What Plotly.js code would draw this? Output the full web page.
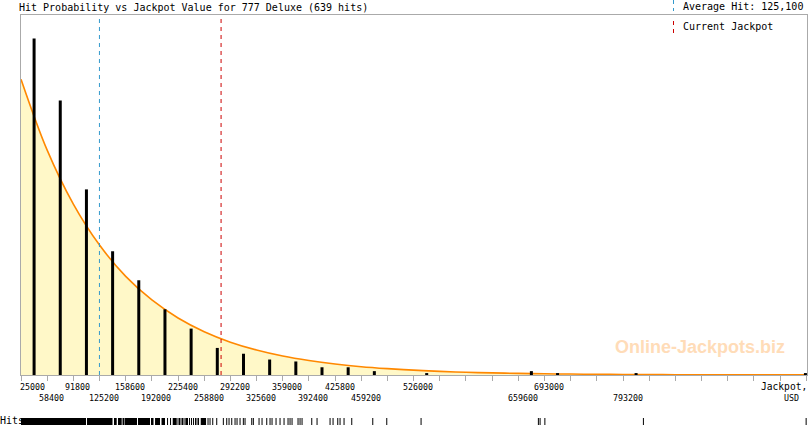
<!DOCTYPE html>
<html>
<head>
<meta charset="utf-8">
<script src="https://cdn.plot.ly/plotly-3.0.1.min.js"></script>
<style>
  body { margin: 0; background: #fff; }
  #chart { width: 810px; height: 425px; }
</style>
</head>
<body>
<div id="chart"></div>
<script>
// histogram of hits, one bar per 33,400 USD bin (bin centre, number of hits)
const binCenters = [41700, 75100, 108500, 141900, 175300, 208700, 242100, 275500,
  308900, 342300, 375700, 409100, 442500, 475900, 542700, 676300, 709700, 809900, 1026000];
const binHits = [174, 142, 96, 64, 49, 34, 24, 14, 11, 8, 7, 4, 4, 2, 1, 2, 1, 1, 1];

// fitted probability curve, read at the bin edges (in hits)
const curveAt = [25000, 58400, 91800, 125200, 158600, 192000, 225400, 258800, 292200,
  325600, 359000, 392400, 425800, 459200, 492600, 526000, 559400, 592800, 626200,
  659600, 693000, 726400, 759800, 793200, 826600, 860000, 893400, 926800, 960200,
  993600, 1027000];
const curveHits = [153, 116.3, 88.4, 67.2, 51.0, 38.8, 29.5, 22.4, 17.0, 12.9, 9.8,
  7.5, 5.7, 4.3, 3.3, 2.5, 1.9, 1.4, 1.1, 0.83, 0.63, 0.48, 0.37, 0.28, 0.21, 0.16,
  0.12, 0.09, 0.07, 0.05, 0.04];

// x axis labels (only bins that have hits get one)
const labelValues = [25000, 58400, 91800, 125200, 158600, 192000, 225400, 258800,
  292200, 325600, 359000, 392400, 425800, 459200, 526000, 659600, 693000, 793200];

const avgHit = 125100;
const currentJackpot = 280300;
const gameName = '777 Deluxe';

// rug of single hits: solid stretches [from, to] and lone ticks
const rugRuns = [[25000, 107960], [109240, 141780], [143700, 147140], [148800, 153520],
  [154550, 157100], [157740, 173050], [174330, 189650], [190920, 194110],
  [196040, 202410], [204320, 208790], [211350, 212630], [215180, 216460],
  [218620, 223730], [234700, 238140], [254350, 261120]];
const rugTicks = [225380, 227290, 229210, 231120, 233040, 240060, 242610, 245160,
  247710, 249630, 251540, 263670, 266220, 269670, 274770, 283200, 287530, 290470,
  293920, 298130, 300680, 304510, 308720, 310890, 319440, 321480, 328760, 332590,
  338590, 342800, 345350, 350460, 355560, 360670, 365770, 368320, 370880, 378530,
  381090, 383640, 396020, 402780, 419380, 423210, 429200, 432140, 437240, 447070,
  473870, 491740, 535520, 685230, 687400, 693500, 819240, 1026900];

// window pixels -> paper coords (plot area is x 21..807, y 15..425)
const W = 810, H = 425, L = 21, R = 3, T = 15;
const px = X => (X - L) / (W - L - R);
const py = Y => (H - Y) / (H - T);
const usdPerPx = 1276.3;
const yTop = 186.2;

const mono = 'DejaVu Sans Mono, monospace';
const totalHits = binHits.reduce((a, b) => a + b, 0);

const rugBase = [], rugLen = [];
rugRuns.forEach(r => { rugBase.push(r[0]); rugLen.push(r[1] - r[0]); });
rugTicks.forEach(v => { rugBase.push(v - usdPerPx / 2); rugLen.push(usdPerPx); });

const traces = [
  {
    type: 'scatter', mode: 'lines',
    x: curveAt, y: curveHits,
    line: {color: '#ff8800', width: 1.6, shape: 'spline'},
    fill: 'tozeroy', fillcolor: '#fff8c8',
    hoverinfo: 'skip'
  },
  // bars sit on an overlaid axis so they are drawn over the filled curve
  {
    type: 'bar', xaxis: 'x', yaxis: 'y3',
    x: binCenters, y: binHits,
    width: 3 * usdPerPx,
    marker: {color: '#000', line: {width: 0}}
  },
  {
    type: 'bar', orientation: 'h',
    xaxis: 'x', yaxis: 'y2',
    y: rugBase.map(() => 0), x: rugLen, base: rugBase,
    width: 1,
    marker: {color: '#000', line: {width: 0}}
  }
];

const annotations = labelValues.map((v, i) => ({
  xref: 'x', x: v, yref: 'paper', y: py(i % 2 ? 398.3 : 386.7),
  xanchor: i === 0 ? 'left' : 'center', xshift: i === 0 ? -3 : 4.5,
  yanchor: 'middle', showarrow: false,
  text: String(v), font: {family: mono, size: 8.3, color: '#000'}
}));

annotations.push(
  {xref: 'paper', x: px(809), yref: 'paper', y: py(386.7), xanchor: 'right', yanchor: 'middle',
    showarrow: false, text: 'Jackpot,', font: {family: mono, size: 9.6, color: '#000'}},
  {xref: 'paper', x: px(791), yref: 'paper', y: py(398.3), xanchor: 'center', yanchor: 'middle',
    showarrow: false, text: 'USD', font: {family: mono, size: 8.3, color: '#000'}},
  {xref: 'paper', x: px(681), yref: 'paper', y: py(6.8), xanchor: 'left', yanchor: 'middle',
    showarrow: false, text: 'Average Hit: ' + avgHit.toLocaleString('en-US'),
    font: {family: mono, size: 10, color: '#000'}},
  {xref: 'paper', x: px(681), yref: 'paper', y: py(26.5), xanchor: 'left', yanchor: 'middle',
    showarrow: false, text: 'Current Jackpot', font: {family: mono, size: 10, color: '#000'}},
  {xref: 'paper', x: px(-2), yref: 'paper', y: py(420.5), xanchor: 'left', yanchor: 'middle',
    showarrow: false, text: 'Hits:', font: {family: mono, size: 10, color: '#000'}},
  {xref: 'paper', x: px(700), yref: 'paper', y: py(347), xanchor: 'center', yanchor: 'middle',
    showarrow: false, text: '<b>Online-Jackpots.biz</b>',
    font: {family: 'Liberation Sans, Arial, sans-serif', size: 18, color: '#ffdcb8'}}
);

const shapes = [
  {type: 'line', xref: 'x', x0: avgHit, x1: avgHit, yref: 'y domain', y0: 0, y1: 1,
    line: {color: '#3399cc', width: 1, dash: '4px,4px'}},
  {type: 'line', xref: 'x', x0: currentJackpot, x1: currentJackpot, yref: 'y domain', y0: 0, y1: 0.995,
    line: {color: '#cc0000', width: 1, dash: '4px,4px'}},
  // legend keys
  {type: 'line', xref: 'paper', x0: px(673.5), x1: px(673.5), yref: 'paper', y0: py(0), y1: py(11),
    line: {color: '#3399cc', width: 1, dash: '4px,4px'}},
  {type: 'line', xref: 'paper', x0: px(673.5), x1: px(673.5), yref: 'paper', y0: py(21), y1: py(33.5),
    line: {color: '#cc0000', width: 1, dash: '4px,4px'}}
];

const layout = {
  width: W, height: H,
  margin: {l: L, r: R, t: T, b: 0, pad: 0},
  paper_bgcolor: '#fff', plot_bgcolor: '#fff',
  showlegend: false,
  title: {
    text: 'Hit Probability vs Jackpot Value for ' + gameName + ' (' + totalHits + ' hits)',
    xref: 'container', x: 19 / W, xanchor: 'left',
    yref: 'container', y: 1 - 7 / H, yanchor: 'middle',
    font: {family: mono, size: 10, color: '#000'}
  },
  xaxis: {
    range: [25000, 1028000],
    tickmode: 'linear', tick0: 25000, dtick: 33400,
    ticks: 'outside', ticklen: 5, tickcolor: '#aaa', tickwidth: 1,
    showticklabels: false,
    showline: true, linecolor: '#aaa', linewidth: 1, mirror: true,
    showgrid: false, zeroline: false, anchor: 'y'
  },
  yaxis: {
    domain: [py(375), 1],
    range: [0, yTop],
    showline: true, linecolor: '#aaa', linewidth: 1, mirror: true,
    showgrid: false, zeroline: false, showticklabels: false, ticks: ''
  },
  yaxis3: {
    overlaying: 'y', anchor: 'x',
    range: [0, yTop],
    visible: false, showgrid: false, zeroline: false
  },
  yaxis2: {
    domain: [0, py(418)],
    range: [-0.5, 0.5],
    visible: false, anchor: 'x', fixedrange: true
  },
  annotations: annotations,
  shapes: shapes
};

Plotly.newPlot('chart', traces, layout, {staticPlot: true, displayModeBar: false});
</script>
</body>
</html>
